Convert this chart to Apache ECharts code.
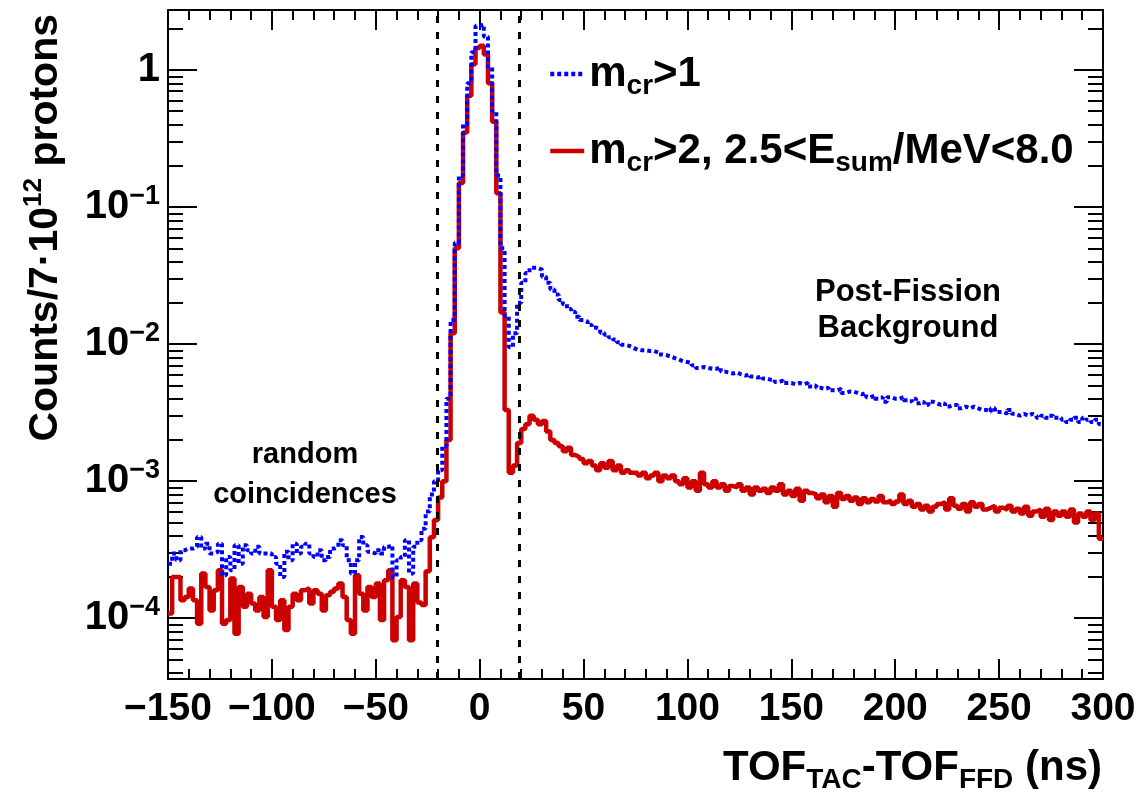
<!DOCTYPE html>
<html><head><meta charset="utf-8">
<script src="https://cdn.jsdelivr.net/npm/echarts@6/dist/echarts.min.js"></script>
<style>html,body{margin:0;padding:0;background:#fff}#c{width:1140px;height:798px}</style>
</head><body><div id="c"></div>
<script>
// ---- data (2 ns bins, left edges start at -150) ----
const binStart = -150, binWidth = 2, binEnd = 300;
// bins -150 .. -32
const blueLeft = [2.5e-4, 2.96e-4, 2.65e-4, 3.13e-4, 3.22e-4, 3.22e-4, 3.32e-4, 3.92e-4, 3.22e-4, 3.5e-4,
  2.96e-4, 3.05e-4, 3.5e-4, 2.06e-4, 2.8e-4, 2.24e-4, 3.41e-4, 2.5e-4, 3.41e-4, 3.13e-4,
  2.96e-4, 3.32e-4, 2.96e-4, 2.96e-4, 2.96e-4, 2.8e-4, 2.5e-4, 2.0e-4, 3.05e-4, 2.65e-4,
  3.5e-4, 2.96e-4, 3.32e-4, 3.5e-4, 2.96e-4, 2.8e-4, 3.13e-4, 2.65e-4, 2.8e-4, 3.22e-4,
  3.32e-4, 3.71e-4, 3.41e-4, 2.65e-4, 2.12e-4, 2.65e-4, 3.92e-4, 3.41e-4, 3.05e-4, 2.96e-4,
  3.13e-4, 2.96e-4, 3.32e-4, 3.41e-4, 2.0e-4, 2.65e-4, 2.8e-4, 3.71e-4, 2.12e-4, 3.32e-4];
// bins -30 .. 34
const bluePeak = [3.7e-4, 4.5e-4, 6.0e-4, 8.0e-4, 1.0e-3, 1.2e-3, 1.8e-3, 4.0e-3, 0.015, 0.055,
  0.17, 0.4, 0.8, 1.35, 2.1, 2.15, 1.75, 1.05, 0.5, 0.17,
  0.05, 0.016, 0.0095, 0.012, 0.02, 0.028, 0.033, 0.036, 0.036, 0.035,
  0.031, 0.028, 0.025];
// bins 36 .. 298
const blueTail = [0.023, 0.021, 0.0195, 0.018, 0.0172, 0.0158, 0.015, 0.0146, 0.0138, 0.0132,
  0.0128, 0.0121, 0.0117, 0.0112, 0.0108, 0.0103, 0.0099, 0.0097, 0.0094, 0.0091,
  0.009, 0.009, 0.0089, 0.0089, 0.0087, 0.0084, 0.0083, 0.0081, 0.0079, 0.0077,
  0.0075, 0.0074, 0.0073, 0.0070, 0.0067, 0.0068, 0.0067, 0.0066, 0.0066, 0.0068,
  0.0063, 0.0062, 0.0061, 0.0062, 0.006, 0.0059, 0.006, 0.0058, 0.0057, 0.0058,
  0.0056, 0.0055, 0.0055, 0.0053, 0.0054, 0.0052, 0.0052, 0.0051, 0.0052, 0.0051,
  0.0052, 0.0049, 0.005, 0.0048, 0.0047, 0.0048, 0.0046, 0.0046, 0.0047, 0.0044,
  0.0045, 0.0045, 0.0044, 0.0043, 0.0044, 0.0041, 0.0042, 0.004, 0.0041, 0.0038,
  0.0041, 0.004, 0.004, 0.0041, 0.0039, 0.0038, 0.004, 0.0037, 0.0038, 0.0036,
  0.0038, 0.0037, 0.0036, 0.0037, 0.0035, 0.0036, 0.0036, 0.0034, 0.0035, 0.0034,
  0.0035, 0.0034, 0.0033, 0.0033, 0.0032, 0.0034, 0.0032, 0.0032, 0.0031, 0.0033,
  0.0031, 0.003, 0.0031, 0.003, 0.0031, 0.003, 0.0029, 0.003, 0.0029, 0.003,
  0.0029, 0.0029, 0.0028, 0.0027, 0.0028, 0.0029, 0.0027, 0.0029, 0.0028, 0.0027, 0.0028, 0.0026];

const redLeft = [1.08e-4, 2.0e-4, 2.0e-4, 1.35e-4, 1.43e-4, 1.65e-4, 1.35e-4, 9.1e-5, 2.12e-4, 1.69e-4,
  1.14e-4, 1.6e-4, 2.24e-4, 9.1e-5, 9.7e-5, 1.95e-4, 7.7e-5, 1.69e-4, 1.21e-4, 1.51e-4,
  1.28e-4, 1.14e-4, 1.43e-4, 1.02e-4, 2.24e-4, 1.21e-4, 9.7e-5, 1.35e-4, 8.2e-5, 1.21e-4,
  1.51e-4, 1.35e-4, 1.6e-4, 1.65e-4, 1.28e-4, 1.6e-4, 1.51e-4, 1.14e-4, 1.47e-4, 1.56e-4,
  1.65e-4, 1.79e-4, 1.43e-4, 9.7e-5, 7.7e-5, 2.06e-4, 1.51e-4, 1.14e-4, 1.69e-4, 1.43e-4,
  1.79e-4, 9.7e-5, 1.89e-4, 2.24e-4, 6.9e-5, 1.02e-4, 1.89e-4, 1.69e-4, 6.9e-5, 1.79e-4];
const redPeak = [1.3e-4, 1.25e-4, 2.2e-4, 3.9e-4, 5.2e-4, 7.6e-4, 1.0e-3, 2.0e-3, 0.012, 0.05,
  0.15, 0.35, 0.65, 1.1, 1.45, 1.5, 1.3, 0.8, 0.42, 0.126,
  0.017, 0.0033, 0.00115, 0.0013, 0.0019, 0.0024, 0.0026, 0.003, 0.0028, 0.0026,
  0.00275, 0.0023, 0.002];
const redTail = [1.9e-3, 1.8e-3, 1.65e-3, 1.75e-3, 1.55e-3, 1.5e-3, 1.45e-3, 1.35e-3, 1.4e-3, 1.3e-3,
  1.2e-3, 1.35e-3, 1.25e-3, 1.4e-3, 1.2e-3, 1.3e-3, 1.15e-3, 1.2e-3, 1.15e-3, 1.15e-3,
  1.1e-3, 1.15e-3, 1.05e-3, 1.1e-3, 1.15e-3, 1.0e-3, 1.1e-3, 1.05e-3, 1.1e-3, 1.0e-3,
  9.5e-4, 1.05e-3, 9.0e-4, 1.0e-3, 8.5e-4, 1.15e-3, 9.5e-4, 9.0e-4, 1.0e-3, 9.0e-4,
  9.5e-4, 8.5e-4, 9.2e-4, 9.0e-4, 9.5e-4, 8.5e-4, 9.0e-4, 8.0e-4, 9.0e-4, 8.5e-4,
  8.8e-4, 8.2e-4, 9.0e-4, 8.5e-4, 9.5e-4, 8.0e-4, 8.5e-4, 7.8e-4, 8.8e-4, 7.2e-4,
  8.5e-4, 8.2e-4, 8.0e-4, 7.5e-4, 8.0e-4, 7.0e-4, 7.8e-4, 6.5e-4, 8.2e-4, 7.4e-4,
  7.8e-4, 7.2e-4, 7.6e-4, 6.8e-4, 7.5e-4, 7.0e-4, 7.4e-4, 7.1e-4, 7.8e-4, 7.0e-4,
  7.2e-4, 6.8e-4, 7.1e-4, 8.0e-4, 6.8e-4, 7.2e-4, 6.5e-4, 6.8e-4, 6.2e-4, 6.6e-4,
  6.0e-4, 6.5e-4, 6.8e-4, 7.0e-4, 6.2e-4, 7.5e-4, 6.6e-4, 6.3e-4, 6.8e-4, 6.0e-4,
  7.0e-4, 6.5e-4, 6.8e-4, 6.2e-4, 6.4e-4, 6.6e-4, 6.0e-4, 6.4e-4, 6.2e-4, 6.6e-4,
  6.0e-4, 6.3e-4, 5.8e-4, 6.5e-4, 5.6e-4, 6.0e-4, 6.2e-4, 5.5e-4, 6.3e-4, 5.2e-4,
  6.0e-4, 5.6e-4, 6.0e-4, 5.5e-4, 6.2e-4, 5.0e-4, 5.8e-4, 5.5e-4, 6.0e-4, 5.2e-4, 5.8e-4, 3.8e-4];

const cutLines = [-20.4, 19.1];
const xRange = [-150, 300];
const xInterval = 50;
const yRange = [3.6e-5, 2.74];
const yMajor = [1e-4, 1e-3, 1e-2, 1e-1, 1];
const yMinor = [4e-5, 5e-5, 6e-5, 7e-5, 8e-5, 9e-5,
  2e-4, 3e-4, 4e-4, 5e-4, 6e-4, 7e-4, 8e-4, 9e-4,
  2e-3, 3e-3, 4e-3, 5e-3, 6e-3, 7e-3, 8e-3, 9e-3,
  2e-2, 3e-2, 4e-2, 5e-2, 6e-2, 7e-2, 8e-2, 9e-2,
  0.2, 0.3, 0.4, 0.5, 0.6, 0.7, 0.8, 0.9, 2];
const nameBlue = 'm_cr>1';
const nameRed = 'm_cr>2, 2.5<E_sum/MeV<8.0';

// ---- build ----
function steps(vals) {
  const pts = vals.map((v, i) => [binStart + i * binWidth, v]);
  pts.push([binEnd, vals[vals.length - 1]]);
  return pts;
}
const blue = steps(blueLeft.concat(bluePeak, blueTail));
const red = steps(redLeft.concat(redPeak, redTail));

const FF = "'Liberation Sans', Arial, Helvetica, sans-serif";
const chart = echarts.init(document.getElementById('c'), null, {renderer: 'canvas'});

const tickLine = {color: '#000', width: 2};
function xAx(pos, labels) {
  return {
    type: 'value', position: pos, min: xRange[0], max: xRange[1], interval: xInterval,
    axisLine: {show: true, onZero: false, lineStyle: tickLine},
    axisTick: {show: true, inside: true, length: 20, lineStyle: tickLine},
    minorTick: {show: true, splitNumber: 5, length: 10, lineStyle: tickLine},
    splitLine: {show: false},
    axisLabel: {show: labels, margin: 11, fontFamily: FF, fontWeight: 'bold', fontSize: 39, color: '#000',
      formatter: v => (v < 0 ? '\u2212' + (-v) : String(v))}
  };
}
function yAx(pos, major, labels) {
  return {
    type: 'log', logBase: 10, position: pos, min: yRange[0], max: yRange[1],
    axisLine: {show: major, onZero: false, lineStyle: tickLine},
    axisTick: {show: true, inside: true, length: major ? 29 : 15, lineStyle: tickLine,
      customValues: major ? yMajor : yMinor},
    minorTick: {show: false},
    splitLine: {show: false},
    axisLabel: {show: labels, margin: 8, customValues: yMajor, color: '#000',
      formatter: v => {
        const e = Math.round(Math.log10(v));
        return e === 0 ? '{b|1}' : '{b|10}{s|\u2212' + (-e) + '}';
      },
      rich: {
        b: {fontFamily: FF, fontWeight: 'bold', fontSize: 40, lineHeight: 48, color: '#000'},
        s: {fontFamily: FF, fontWeight: 'bold', fontSize: 27, lineHeight: 27, verticalAlign: 'top', color: '#000'}
      }}
  };
}

const legendRich = {};
legendRich[nameBlue] = '{n|m}{s|cr}{n|>1}';
legendRich[nameRed] = '{n|m}{s|cr}{n|>2, 2.5<E}{s|sum}{n|/MeV<8.0}';

chart.setOption({
  animation: false,
  backgroundColor: '#fff',
  grid: {left: 168, right: 37, top: 10, bottom: 119, containLabel: false},
  xAxis: [xAx('bottom', true), xAx('top', false)],
  yAxis: [yAx('left', true, true), yAx('left', false, false), yAx('right', true, false), yAx('right', false, false)],
  legend: {
    data: [nameBlue, nameRed], orient: 'vertical', left: 548, top: 53, padding: 0,
    itemGap: 30, itemWidth: 34, itemHeight: 20, selectedMode: false,
    itemStyle: {opacity: 0},
    lineStyle: {width: 4.5},
    formatter: n => legendRich[n],
    textStyle: {color: '#000', rich: {
      n: {fontFamily: FF, fontWeight: 'bold', fontSize: 42, lineHeight: 52, color: '#000'},
      s: {fontFamily: FF, fontWeight: 'bold', fontSize: 28, lineHeight: 26, verticalAlign: 'bottom', color: '#000'}
    }}
  },
  series: [
    {name: nameRed, type: 'line', step: 'end', data: red, symbol: 'none', clip: true,
      lineStyle: {color: '#cc0000', width: 4.5}, itemStyle: {color: '#cc0000'}, z: 3},
    {name: nameBlue, type: 'line', step: 'end', data: blue, symbol: 'none', clip: true,
      lineStyle: {color: '#0000ff', width: 4, type: [4, 3]}, itemStyle: {color: '#0000ff'}, z: 4},
    {name: 'cuts', type: 'line', data: [], symbol: 'none',
      markLine: {silent: true, symbol: 'none', label: {show: false},
        lineStyle: {color: '#000', width: 3, type: [7, 9]},
        data: cutLines.map(v => ({xAxis: v}))}, z: 2}
  ],
  graphic: [
    {type: 'text', x: 1102, y: 768, style: {
      text: '{b|TOF}{s|TAC}{b|-TOF}{s|FFD}{b| (ns)}', align: 'right', verticalAlign: 'middle',
      rich: {b: {fontFamily: FF, fontWeight: 'bold', fontSize: 42, lineHeight: 52, fill: '#000'},
             s: {fontFamily: FF, fontWeight: 'bold', fontSize: 28, lineHeight: 28, verticalAlign: 'bottom', fill: '#000'}}}},
    {type: 'text', x: 46, y: 14, rotation: Math.PI / 2, style: {
      text: '{b|Counts/7\u00b710}{p|12}{b| protons}', align: 'right', verticalAlign: 'middle',
      rich: {b: {fontFamily: FF, fontWeight: 'bold', fontSize: 41, lineHeight: 50, fill: '#000'},
             p: {fontFamily: FF, fontWeight: 'bold', fontSize: 26, lineHeight: 26, verticalAlign: 'top', fill: '#000'}}}},
    {type: 'text', x: 305, y: 475, style: {
      text: 'random\ncoincidences', align: 'center', verticalAlign: 'middle',
      fontFamily: FF, fontWeight: 'bold', fontSize: 29, lineHeight: 40, fill: '#000'}},
    {type: 'text', x: 908, y: 310, style: {
      text: 'Post-Fission\nBackground', align: 'center', verticalAlign: 'middle',
      fontFamily: FF, fontWeight: 'bold', fontSize: 31, lineHeight: 36, fill: '#000'}}
  ]
});
</script></body></html>
